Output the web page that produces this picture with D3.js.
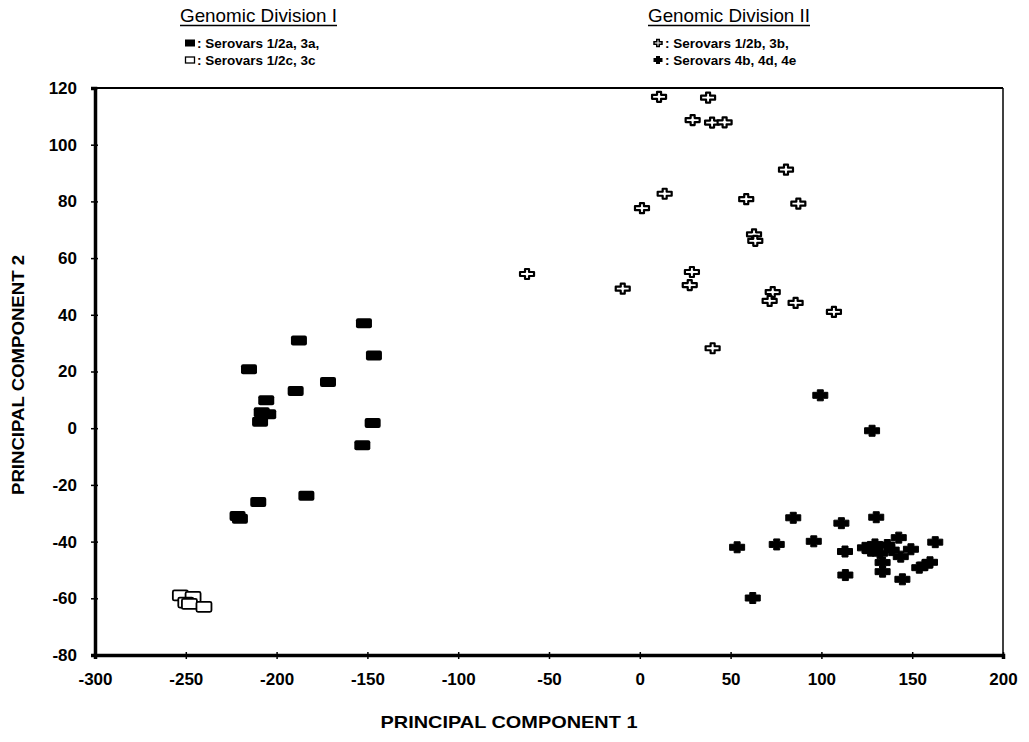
<!DOCTYPE html>
<html>
<head>
<meta charset="utf-8">
<script src="https://cdn.jsdelivr.net/npm/d3@7"></script>
<style>
  body { margin: 0; background: #fff; }
  svg text { font-family: "Liberation Sans", Arial, sans-serif; fill: #000; }
</style>
</head>
<body>
<svg id="chart" width="1029" height="742"></svg>
<script>
// PC1 / PC2 scores
const div1a = [ // Serovars 1/2a, 3a
  [-151.9, 37.0], [-187.7, 30.9], [-146.4, 25.6], [-215.2, 20.8], [-171.7, 16.3],
  [-189.5, 13.1], [-205.7, 9.9], [-208.2, 5.6], [-204.6, 4.9], [-209.1, 2.3],
  [-147.1, 1.8], [-152.8, -6.0], [-183.6, -23.8], [-210.1, -26.0], [-220.2, -31.9],
  [-221.5, -31.0]
];
const div1c = [ // Serovars 1/2c, 3c
  [-253, -59], [-246, -59.5], [-250, -61.5], [-248, -62], [-240, -63]
];
const div2b = [ // Serovars 1/2b, 3b
  [10.6, 116.9], [37.6, 116.6], [29.1, 108.7], [39.8, 107.8], [46.7, 107.9],
  [80.5, 91.2], [13.7, 82.7], [1.2, 77.6], [58.6, 80.8], [87.3, 79.2],
  [62.9, 68.4], [63.6, 66.1], [28.7, 55.1], [-9.4, 49.2], [27.5, 50.5],
  [73.2, 48.0], [71.5, 44.9], [85.8, 44.2], [106.9, 41.0], [40.1, 28.2],
  [-62.1, 54.4]
];
const div2e = [ // Serovars 4b, 4d, 4e
  [99.4, 11.6], [127.9, -0.9], [84.5, -31.6], [111, -33.5], [130.2, -31.4],
  [95.8, -39.9], [142.6, -38.6], [162.7, -40.2], [113, -43.5],
  [124, -42.2], [129.5, -41], [136.3, -41.2], [132.3, -44.1], [127.1, -43.2], [138.7, -43],
  [143.7, -45.3], [149.3, -42.7], [133.7, -47.4], [133.7, -50.6], [113.2, -51.8],
  [144.6, -53.3], [153.9, -49.2], [157, -48.3], [159.8, -47.3],
  [53.6, -42], [75.4, -41], [62.2, -59.9]
];
const xTicks = [-300, -250, -200, -150, -100, -50, 0, 50, 100, 150, 200];
const yTicks = [-80, -60, -40, -20, 0, 20, 40, 60, 80, 100, 120];

const svg = d3.select("#chart");
const margin = { top: 88, right: 26, bottom: 87, left: 95 };
const width = 1029 - margin.left - margin.right;
const height = 742 - margin.top - margin.bottom;

const x = d3.scaleLinear().domain([-300, 200]).range([0, width]);
const y = d3.scaleLinear().domain([-80, 120]).range([height, 0]);

const g = svg.append("g").attr("transform", `translate(${margin.left},${margin.top})`);

// frame: thin top and right edges
g.append("line").attr("x1", 0).attr("x2", width).attr("y1", 0).attr("y2", 0)
  .attr("stroke", "#000").attr("stroke-width", 2);
g.append("line").attr("x1", width).attr("x2", width).attr("y1", 0).attr("y2", height)
  .attr("stroke", "#000").attr("stroke-width", 1.5);

// axes (plain hyphen for negatives, as in the original)
const fmt = d => String(d);
const xAxis = g.append("g").attr("transform", `translate(0,${height})`)
  .call(d3.axisBottom(x).tickValues(xTicks).tickSize(4).tickPadding(14).tickFormat(fmt));
const yAxis = g.append("g")
  .call(d3.axisLeft(y).tickValues(yTicks).tickSize(4).tickPadding(14).tickFormat(fmt));
[xAxis, yAxis].forEach(a => {
  a.select(".domain").attr("stroke-width", 3.5);
  a.selectAll(".tick line").attr("stroke-width", 1.5);
  a.selectAll(".tick text").style("font-size", "17px").style("font-weight", "bold")
    .style("font-family", "'Liberation Sans', Arial, sans-serif");
});
// inner half of the ticks
g.append("g").attr("transform", `translate(0,${height})`)
  .call(d3.axisBottom(x).tickValues(xTicks).tickSize(-3).tickFormat(""))
  .call(a => a.select(".domain").remove())
  .selectAll("line").attr("stroke-width", 1.5);
g.append("g")
  .call(d3.axisLeft(y).tickValues(yTicks).tickSize(-3).tickFormat(""))
  .call(a => a.select(".domain").remove())
  .selectAll("line").attr("stroke-width", 1.5);

// marker shapes
const crossPath = (w, h, t) => {
  const a = w / 2, b = h / 2, c = t / 2;
  return `M${-c},${-b}H${c}V${-c}H${a}V${c}H${c}V${b}H${-c}V${c}H${-a}V${-c}H${-c}Z`;
};

g.selectAll(".sqFilled").data(div1a).enter().append("rect")
  .attr("x", d => x(d[0]) - 8).attr("y", d => y(d[1]) - 5)
  .attr("width", 16).attr("height", 10).attr("rx", 2)
  .attr("fill", "#000");

g.selectAll(".sqOpen").data(div1c).enter().append("rect")
  .attr("x", d => x(d[0]) - 7.5).attr("y", d => y(d[1]) - 5)
  .attr("width", 15).attr("height", 10).attr("rx", 1.5)
  .attr("fill", "#fff").attr("stroke", "#000").attr("stroke-width", 1.8);

g.selectAll(".crOpen").data(div2b).enter().append("path")
  .attr("transform", d => `translate(${x(d[0])},${y(d[1])})`)
  .attr("d", crossPath(14, 10, 4))
  .attr("fill", "#fff").attr("stroke", "#000").attr("stroke-width", 2.2)
  .attr("stroke-linejoin", "round");

g.selectAll(".crFilled").data(div2e).enter().append("path")
  .attr("transform", d => `translate(${x(d[0])},${y(d[1])})`)
  .attr("d", crossPath(15, 11, 6))
  .attr("fill", "#000").attr("stroke", "#000").attr("stroke-width", 1)
  .attr("stroke-linejoin", "round");

// axis titles
svg.append("text").attr("x", 509).attr("y", 728).attr("text-anchor", "middle")
  .style("font-size", "17px").style("font-weight", "bold")
  .attr("textLength", 257).attr("lengthAdjust", "spacingAndGlyphs")
  .text("PRINCIPAL COMPONENT 1");
svg.append("text").attr("transform", "translate(24,375) rotate(-90)").attr("text-anchor", "middle")
  .style("font-size", "17px").style("font-weight", "bold")
  .attr("textLength", 240).attr("lengthAdjust", "spacingAndGlyphs")
  .text("PRINCIPAL COMPONENT 2");

// legend blocks
function legendBlock(x0, title, titleLen, items) {
  svg.append("text").attr("x", x0).attr("y", 22)
    .style("font-size", "19px")
    .attr("textLength", titleLen).attr("lengthAdjust", "spacingAndGlyphs")
    .text(title);
  svg.append("line").attr("x1", x0).attr("x2", x0 + titleLen).attr("y1", 25.5).attr("y2", 25.5)
    .attr("stroke", "#000").attr("stroke-width", 1.3);
  items.forEach((it, i) => {
    const cy = 43 + i * 17;
    it.draw(svg, x0 + 10, cy);
    svg.append("text").attr("x", x0 + 17).attr("y", cy + 5)
      .style("font-size", "13.5px").style("font-weight", "bold")
      .text(": " + it.label);
  });
}

legendBlock(180, "Genomic Division I", 157, [
  { label: "Serovars 1/2a, 3a,", draw: (s, cx, cy) => s.append("rect")
      .attr("x", cx - 5).attr("y", cy - 3.5).attr("width", 10).attr("height", 7).attr("fill", "#000") },
  { label: "Serovars 1/2c, 3c", draw: (s, cx, cy) => s.append("rect")
      .attr("x", cx - 4.5).attr("y", cy - 3).attr("width", 9).attr("height", 6)
      .attr("fill", "#fff").attr("stroke", "#000").attr("stroke-width", 1.3) }
]);
legendBlock(648, "Genomic Division II", 162, [
  { label: "Serovars 1/2b, 3b,", draw: (s, cx, cy) => s.append("path")
      .attr("transform", `translate(${cx},${cy})`).attr("d", crossPath(8, 7, 2.5))
      .attr("fill", "#fff").attr("stroke", "#000").attr("stroke-width", 1.5) },
  { label: "Serovars 4b, 4d, 4e", draw: (s, cx, cy) => s.append("path")
      .attr("transform", `translate(${cx},${cy})`).attr("d", crossPath(9, 8, 4))
      .attr("fill", "#000") }
]);
</script>
</body>
</html>
